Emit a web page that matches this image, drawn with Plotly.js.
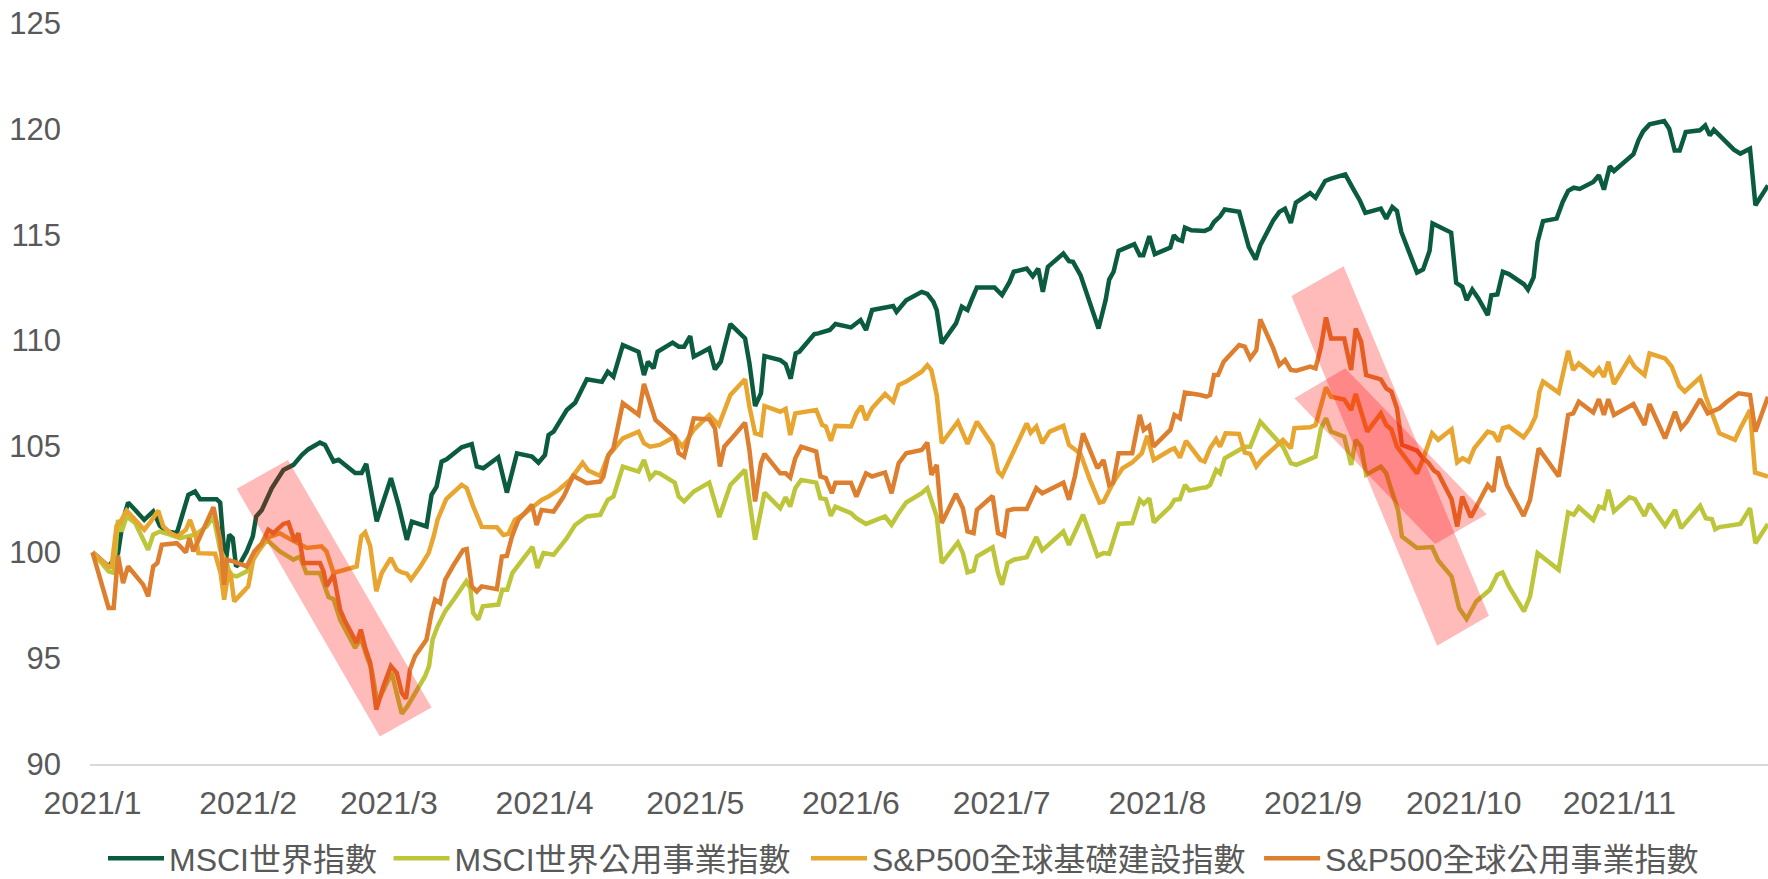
<!DOCTYPE html>
<html>
<head>
<meta charset="utf-8">
<script src="https://cdn.plot.ly/plotly-3.0.1.min.js"></script>
<style>html,body{margin:0;padding:0;background:#fff;}#chart{width:1768px;height:879px;}</style>
</head>
<body>
<div id="chart"></div>
<script>
// ---- Data (days = days after 2021-01-01) ----
const seriesNames = ['MSCI世界指數', 'MSCI世界公用事業指數', 'S&P500全球基礎建設指數', 'S&P500全球公用事業指數'];
const monthTicks = ['2021-01-01','2021-02-01','2021-03-01','2021-04-01','2021-05-01','2021-06-01','2021-07-01','2021-08-01','2021-09-01','2021-10-01','2021-11-01'];
const monthLabels = ['2021/1','2021/2','2021/3','2021/4','2021/5','2021/6','2021/7','2021/8','2021/9','2021/10','2021/11'];

const worldDays = [0,3.2,4.2,5.1,6.1,7.1,8.5,10.3,12.1,13.4,14.9,16.8,17.8,19.1,20.4,21.4,24.7,25.4,26.2,26.5,27.2,27.9,28.6,29.4,30.7,31.9,32.6,33.7,35.7,38.0,40.0,41.7,43.0,
45.3,46.3,48.0,49.0,52.3,53.6,54.5,56.6,59.4,60.9,
62.6,63.6,66.5,67.5,68.5,69.5,70.5,73.5,75.5,76.5,77.8,80.8,82.5,84.5,87.5,88.8,90.1,90.8,91.8,94.4,96.1,98.4,101.4,
102.6,103.7,105.6,108.7,109.8,110.6,111.7,112.5,115.5,116.7,117.8,119.0,119.7,122.8,123.9,125.1,127.0,129.9,130.8,131.9,133.1,133.8,136.9,138.0,139.0,140.0,140.7,143.7,144.5,145.7,146.8,147.9,151.0,152.9,154.0,155.2,159.4,160.1,161.3,162.0,165.1,166.2,167.4,168.1,169.1,171.9,173.1,174.2,175.0,176.1,179.6,181.1,182.6,183.4,186.0,187.2,188.3,189.2,190.2,193.3,194.4,195.2,196.7,197.5,198.5,200.3,201.7,202.4,203.3,204.3,207.4,208.5,209.2,210.4,211.5,214.6,215.3,216.1,216.9,217.5,218.8,220.6,
221.4,222.5,223.3,224.5,225.4,228.3,230.2,231.6,232.5,235.1,236.3,237.4,238.6,239.6,242.4,243.5,245.4,246.6,249.4,251.1,252.3,253.4,256.5,257.6,258.8,259.7,260.6,263.7,264.9,266.2,266.8,270.5,271.5,272.7,273.6,274.7,275.9,277.8,278.5,279.7,280.8,282.0,285.0,285.8,286.9,287.7,288.8,291.5,292.7,293.8,294.9,296.1,298.8,299.9,300.9,302.1,302.9,306.8,307.8,308.7,310.0,312.9,313.9,315.0,316.0,317.2,320.0,321.1,322.0,322.8,326.8,328.1,330.0,331.1,333.6];
const worldVals = [100,99.33,99.65,99.96,101.53,102.35,102.0,101.53,101.93,101.25,100.98,100.9,101.69,102.71,102.87,102.51,102.51,102.35,100.04,99.49,100.83,100.67,99.33,99.49,100.04,100.75,101.69,102.0,103.03,103.89,104.13,104.6,104.87,
105.18,105.07,104.29,104.37,103.74,103.74,104.18,101.46,103.5,102.24,
100.59,101.45,101.22,102.71,103.1,104.28,104.39,104.96,105.11,104.05,103.97,104.49,102.82,104.67,104.52,104.23,104.6,105.54,105.7,106.72,107.06,108.17,108.05,
108.53,108.29,109.79,109.47,108.37,109.0,108.69,109.47,109.9,109.71,109.71,110.21,109.24,109.63,108.64,109.0,110.78,110.1,108.92,106.91,107.5,109.27,109.08,108.89,108.2,109.4,109.47,110.31,110.34,110.42,110.5,110.78,110.62,110.97,110.5,111.44,111.63,111.36,111.75,111.9,112.3,112.2,111.83,111.44,109.87,110.81,111.6,111.44,111.91,112.51,112.51,112.15,112.77,113.25,113.4,113.04,113.4,112.3,113.48,114.11,113.75,113.72,113.09,112.54,111.91,110.57,111.91,112.88,113.25,114.24,114.55,114.03,114.03,114.93,114.08,114.39,114.98,114.77,114.71,115.34,115.21,115.21,
115.18,115.29,115.6,115.87,116.19,116.08,114.42,113.83,114.5,115.68,116.08,116.23,115.56,116.52,116.97,116.75,117.54,117.65,117.85,117.13,116.63,116.03,116.23,115.76,116.31,116.12,115.13,113.21,113.36,114.24,115.53,115.1,112.73,112.54,111.91,112.41,111.99,111.2,112.14,112.18,113.25,113.14,112.66,112.41,112.98,114.66,115.64,115.76,116.55,117.07,117.22,117.16,117.49,117.81,117.13,118.23,118.01,118.8,119.46,119.88,120.21,120.37,120.01,118.98,118.98,119.85,119.93,120.16,119.69,119.96,119.02,118.83,119.06,116.39,117.33];

const worldUtilDays = [0,3.2,4.2,5.1,5.8,6.8,8.5,11.1,12.1,13.4,15.4,17.4,20.4,22.7,24.1,25.4,26.7,27.4,28.7,30.7,32.7,34.7,37.3,40.0,41.3,42.6,
45.3,46.3,47.0,48.0,49.3,52.3,53.4,54.6,55.6,56.7,58.2,59.6,60.7,61.6,62.7,64.2,66.2,67.0,67.7,68.7,70.2,72.0,74.4,75.2,75.8,76.8,77.7,80.8,81.6,82.6,83.6,85.1,87.6,88.6,
89.8,91.8,94.4,96.1,98.4,
101.1,102.6,103.7,105.6,108.7,109.8,111.0,112.1,112.9,115.9,116.7,117.8,119.7,122.8,124.8,127.0,129.9,131.9,133.8,136.9,138.0,138.9,139.9,141.1,144.1,144.9,146.0,147.0,147.9,151.0,152.1,154.0,157.8,159.1,160.5,162.0,165.1,166.2,168.1,169.1,172.3,173.3,174.2,175.4,176.1,179.2,180.3,181.1,182.2,183.4,186.0,187.9,189.1,193.3,194.4,197.2,200.1,201.3,202.4,204.3,207.0,208.5,209.3,210.4,211.3,214.6,215.4,216.5,217.5,218.4,220.6,
221.8,222.5,223.7,224.5,225.4,228.3,229.4,230.5,232.5,237.0,238.6,239.7,242.7,243.5,244.6,245.6,246.6,249.2,250.6,251.5,252.6,253.6,256.5,257.6,258.6,259.9,260.7,263.7,266.7,267.9,270.6,271.5,272.1,273.6,275.5,276.7,278.2,279.7,280.7,282.0,285.0,286.2,287.7,291.9,293.8,294.9,295.9,298.8,299.9,300.9,301.8,302.9,306.0,307.1,309.0,310.0,313.1,315.1,316.3,320.1,321.2,322.4,323.1,323.9,328.1,330.0,331.1,333.6];
const worldUtilVals = [100,99.1,99.02,101.53,100.98,101.69,101.38,100.12,100.83,100.98,100.83,100.67,100.83,101.22,101.69,100.12,99.49,98.94,98.86,99.1,99.96,100.59,100.04,99.65,99.8,99.02,
99.02,98.39,97.89,97.79,96.82,95.48,95.95,95.09,94.46,92.89,93.6,94.3,93.2,92.38,92.73,93.36,94.15,94.62,95.88,96.5,97.21,97.79,98.63,98.31,97.13,96.82,97.45,97.53,98.23,98.23,99.02,99.49,100.25,99.26,
99.96,99.88,100.66,101.29,101.69,
101.77,102.48,102.63,104.05,103.81,104.36,103.5,103.77,103.73,103.29,102.63,102.4,102.87,103.29,101.66,103.18,103.89,100.59,102.82,102.08,102.6,102.16,103.03,103.42,103.29,102.55,102.51,101.72,102.16,101.85,101.61,101.34,101.69,101.3,101.85,102.35,102.79,103.03,101.69,99.49,100.46,99.96,99.05,99.14,99.8,100.24,99.02,98.47,99.49,99.65,99.77,100.72,100.09,100.98,100.35,101.77,99.83,99.96,99.93,101.34,101.38,102.48,102.29,102.55,101.41,102.16,102.48,102.51,103.18,102.92,103.03,
103.07,103.18,103.89,103.73,104.44,104.83,104.99,104.99,106.17,104.99,104.21,104.13,104.44,104.52,105.86,106.33,105.7,105.46,104.13,105.31,104.99,103.66,104.05,103.73,102.95,102.0,100.75,100.2,100.25,99.61,98.86,97.92,97.37,96.85,97.68,97.92,98.23,98.94,99.05,98.39,97.21,97.92,99.96,99.17,101.88,101.77,102.13,101.53,102.16,102.08,102.95,101.93,102.6,102.51,101.72,102.29,101.25,102.0,101.14,102.19,101.61,101.56,101.09,101.19,101.34,102.08,100.43,101.34];

const infraDays = [0,3.2,3.8,4.8,5.6,6.8,8.5,10.3,11.6,13.1,14.1,15.6,16.9,18.6,19.4,20.6,21.1,24.4,25.5,26.2,26.9,27.4,28.2,31.0,32.0,33.4,35.0,37.3,39.5,41.0,42.7,
45.6,46.6,48.0,51.3,52.6,53.5,54.3,55.3,56.5,57.6,59.4,60.6,61.6,62.6,63.4,65.2,66.9,67.9,68.7,70.4,73.5,74.5,75.8,77.5,
80.5,81.8,82.8,84.1,86.1,89.4,90.8,92.8,95.1,97.6,98.7,101.1,
102.6,105.6,108.7,109.8,111.0,112.9,115.9,117.4,119.7,122.8,124.7,127.0,129.9,130.8,131.9,133.1,133.8,136.9,138.0,138.9,139.9,144.1,145.3,146.0,147.0,147.9,151.0,152.1,153.1,154.0,155.2,157.8,159.4,160.5,162.0,165.1,166.2,167.0,168.1,169.1,172.3,174.2,176.1,179.2,180.3,181.1,183.8,186.0,186.8,187.9,189.1,190.6,193.3,194.4,196.7,198.6,200.5,201.3,203.2,205.1,207.0,208.9,210.0,211.3,214.6,215.4,216.5,217.7,220.6,
221.4,222.5,223.7,224.5,225.6,228.3,229.4,230.5,231.7,232.8,237.0,238.6,239.3,242.4,243.5,245.6,246.6,249.2,250.6,251.5,252.6,253.8,256.5,257.6,258.6,259.7,263.7,265.1,266.7,267.9,270.6,271.7,272.8,274.0,275.1,277.8,278.9,279.9,280.8,282.0,284.9,286.2,287.3,288.1,288.8,291.9,293.8,294.8,295.9,298.8,299.9,300.9,301.8,302.9,306.0,307.0,309.0,310.0,313.1,314.4,315.9,317.0,320.1,321.2,323.9,327.0,328.1,328.9,330.0,331.0,333.6];
const infraVals = [100,99.33,99.3,101.25,101.45,101.97,101.53,101.06,101.45,101.97,101.22,100.9,100.75,101.06,101.53,100.75,99.96,99.93,99.02,97.76,98.86,99.1,97.68,98.39,99.65,100.2,100.7,100.9,100.6,100.4,100.2,
100.28,100.04,99.02,99.26,99.33,100.75,100.94,100.28,98.16,99.02,99.73,99.18,99.05,98.99,98.71,99.3,99.96,100.75,101.54,102.51,103.19,103.03,102.17,101.2,
101.18,100.82,100.87,101.53,101.84,102.47,102.63,102.94,103.42,104.23,103.86,103.6,
104.52,105.38,105.7,105.15,104.99,105.07,105.46,104.99,105.78,106.49,106.01,107.43,108.17,106.88,105.62,105.54,106.91,106.64,106.77,105.54,106.56,106.72,106.01,105.94,105.27,105.97,105.94,106.56,106.91,106.25,106.8,107.48,107.11,107.9,108.06,108.53,108.84,108.61,107.43,105.15,106.17,105.12,106.17,105.07,103.81,103.61,104.99,106.09,105.65,105.94,105.15,105.7,105.97,105.07,104.65,103.42,102.35,102.4,103.29,103.97,104.24,104.68,105.5,104.36,104.83,104.91,104.47,105.26,104.36,
104.28,104.91,105.34,104.99,105.62,105.59,104.71,104.65,104.05,104.39,105.31,104.91,105.86,105.9,106.01,107.79,107.35,107.22,106.72,107.48,106.64,105.7,106.56,106.01,105.81,104.99,103.73,104.52,105.62,105.31,105.81,104.24,104.44,104.28,104.91,105.7,105.62,105.23,105.86,105.94,105.43,105.86,106.41,107.59,108.06,107.54,109.52,108.61,108.92,108.37,108.69,108.29,109.0,107.95,109.16,108.77,108.37,109.39,109.16,108.77,107.85,107.59,108.26,107.35,105.62,105.31,105.86,106.25,106.72,103.77,103.58];

const spUtilDays = [0,3.2,4.2,5.1,6.1,7.1,10.1,11.1,12.1,12.9,13.8,16.8,17.8,18.6,19.3,20.1,24.1,25.4,26.2,26.7,28.0,30.7,32.2,33.7,35.0,36.0,38.0,39.0,40.3,41.0,42.0,45.3,
46.0,46.6,48.0,49.3,50.3,52.6,53.4,54.3,55.3,56.5,57.9,59.4,60.6,61.6,62.4,63.2,64.2,66.5,67.5,
68.2,69.2,70.2,71.9,73.8,74.5,75.5,76.5,77.5,80.5,81.5,82.5,83.5,84.8,86.1,87.5,88.4,89.4,91.8,93.8,95.7,98.4,101.1,101.7,102.7,103.7,
105.6,108.7,109.8,111.0,112.1,115.9,116.7,117.8,119.7,122.8,123.9,124.9,125.8,127.0,129.9,130.8,131.9,133.1,133.8,136.9,138.0,138.9,139.9,141.1,144.1,144.9,146.0,147.2,147.9,151.0,152.1,154.0,155.2,157.8,159.1,160.5,162.0,165.1,166.2,167.0,168.1,169.1,171.9,173.3,174.2,175.4,176.1,179.2,180.3,181.5,182.2,183.4,186.0,187.9,189.1,193.3,194.4,195.6,197.2,200.1,201.3,202.4,203.2,204.3,207.0,208.5,209.3,210.4,211.2,214.6,215.4,216.5,217.5,220.6,
221.8,222.5,223.3,224.1,225.2,228.3,229.4,230.5,231.7,232.5,235.1,236.3,237.4,238.6,239.7,242.4,243.5,244.6,245.6,246.6,249.2,250.6,251.5,252.6,253.6,256.5,257.6,258.6,259.7,260.7,263.7,264.8,266.0,267.1,267.9,270.6,271.7,272.7,274.4,277.8,278.9,279.9,281.6,284.9,286.2,287.9,291.9,293.8,294.8,295.9,298.8,299.9,300.9,301.8,302.9,306.8,309.0,310.0,313.1,315.1,316.3,317.4,320.1,321.6,322.4,323.9,325.4,327.7,330.0,331.1,333.6];
const spUtilVals = [100,97.37,97.37,99.84,98.55,99.33,98.47,97.92,99.33,99.49,100.35,100.43,100.2,99.99,100.67,100.04,102.13,100.59,98.47,99.65,99.57,99.33,100.04,100.43,101.06,100.9,101.34,101.41,100.51,100.9,99.49,99.49,
99.1,98.39,98.94,97.29,96.74,95.72,96.35,95.48,94.78,92.57,93.67,94.62,94.3,93.36,93.08,94.46,95.09,95.88,97.13,
97.76,97.6,98.7,99.41,100.11,100.15,98.39,98.15,98.39,98.26,99.8,99.83,100.74,101.53,101.84,102.24,101.29,102.0,101.92,102.63,103.61,103.26,103.34,103.57,104.6,104.91,
107.04,106.49,107.95,107.04,106.25,105.46,104.68,104.52,106.33,106.28,105.86,104.05,104.99,105.31,106.12,104.83,102.4,104.21,104.65,103.73,103.73,103.53,104.44,104.99,104.76,103.58,103.5,102.79,103.29,103.29,102.63,103.73,103.58,103.77,102.79,104.21,104.68,104.83,105.18,103.66,104.13,101.38,102.76,102.08,100.98,100.9,102.0,102.66,100.9,100.78,101.97,102.04,102.04,103.03,102.79,103.29,102.48,103.58,105.62,103.97,104.36,103.18,103.29,104.68,104.68,106.49,105.78,105.97,104.99,105.78,106.49,106.33,107.54,107.43,
107.35,107.43,108.37,108.37,109.0,109.79,109.71,109.16,109.55,111.0,109.63,108.84,109.08,108.61,108.58,108.77,108.69,109.71,111.09,110.1,110.1,108.61,110.57,109.94,108.37,108.17,107.74,107.59,106.8,105.07,104.8,104.49,104.21,103.86,103.73,102.51,101.22,102.63,101.66,103.18,102.87,104.52,103.18,101.72,102.48,104.91,103.58,106.49,106.56,107.11,106.6,107.23,106.49,107.23,106.49,107.0,106.01,107.0,105.38,106.64,105.86,106.17,107.23,106.56,106.64,106.8,107.11,107.51,107.43,105.7,107.35];

// highlighted down-moves (corner dates in days, corner index levels)
const band1Days = [28.7, 38.9, 67.5, 57.2];
const band1Vals = [103.0, 104.36, 92.67, 91.3];
const band2Days = [238.7, 249.1, 278.0, 267.7];
const band2Vals = [112.1, 113.51, 97.0, 95.59];
const band3Days = [239.3, 249.4, 277.6, 267.3];
const band3Vals = [107.27, 108.69, 101.8, 100.39];

const colors = ['#0B5C3E', '#BDC63A', '#E8A530', '#DD7F2E'];

// ---- helpers ----
const BASE = Date.UTC(2021, 0, 1);
function toDate(d) {
  const t = new Date(BASE + Math.round(d * 24) * 3600000);
  return t.toISOString().slice(0, 16).replace('T', ' ');
}
function bandPath(days, vals) {
  return days.map((d, i) => (i ? 'L' : 'M') + toDate(d).replace(' ', '_') + ',' + vals[i]).join(' ') + ' Z';
}

const FONT = '"Liberation Sans", Arial, "Noto Sans CJK TC", sans-serif';
const allDays = [worldDays, worldUtilDays, infraDays, spUtilDays];
const allVals = [worldVals, worldUtilVals, infraVals, spUtilVals];
const legendIds = ['legend', 'legend2', 'legend3', 'legend4'];
const legendX = [0.00775, 0.1779, 0.4267, 0.6967];

const traces = seriesNames.map((name, i) => ({
  type: 'scatter',
  mode: 'lines',
  name: name,
  legend: legendIds[i],
  x: allDays[i].map(toDate),
  y: allVals[i],
  line: {color: colors[i], width: 4.5, shape: 'linear'},
  hoverinfo: 'skip'
}));

const bandFill = 'rgba(255,0,0,0.27)';
const shapes = [[band1Days, band1Vals], [band2Days, band2Vals], [band3Days, band3Vals]].map(b => ({
  type: 'path', xref: 'x', yref: 'y', path: bandPath(b[0], b[1]),
  fillcolor: bandFill, line: {width: 0}, layer: 'above'
}));

const layout = {
  width: 1768, height: 879,
  margin: {l: 90, r: 0, t: 22.5, b: 114.5, pad: 0, autoexpand: false},
  paper_bgcolor: '#ffffff', plot_bgcolor: '#ffffff',
  font: {family: FONT, color: '#595959', size: 32},
  showlegend: true,
  xaxis: {
    type: 'date',
    range: [toDate(-0.5), toDate(333.6)],
    tickmode: 'array', tickvals: monthTicks, ticktext: monthLabels,
    showgrid: false, zeroline: false,
    showline: true, linecolor: '#D9D9D9', linewidth: 2,
    ticks: '', ticklabelstandoff: 10,
    tickfont: {family: FONT, size: 32, color: '#595959'},
    automargin: false,
    fixedrange: true
  },
  yaxis: {
    range: [90, 125], tick0: 90, dtick: 5,
    showgrid: false, zeroline: false, showline: false,
    ticks: '', ticklabelstandoff: 28,
    tickfont: {family: FONT, size: 31, color: '#595959'},
    automargin: false,
    fixedrange: true
  },
  shapes: shapes,
  hovermode: false
};
legendIds.forEach((id, i) => {
  layout[id] = {
    orientation: 'h', x: legendX[i], xanchor: 'left', y: -0.1274, yanchor: 'middle',
    font: {family: FONT, size: 32, color: '#595959'},
    itemwidth: 56, bgcolor: 'rgba(0,0,0,0)', borderwidth: 0
  };
});

Plotly.newPlot('chart', traces, layout, {staticPlot: true, displayModeBar: false});
</script>
</body>
</html>
